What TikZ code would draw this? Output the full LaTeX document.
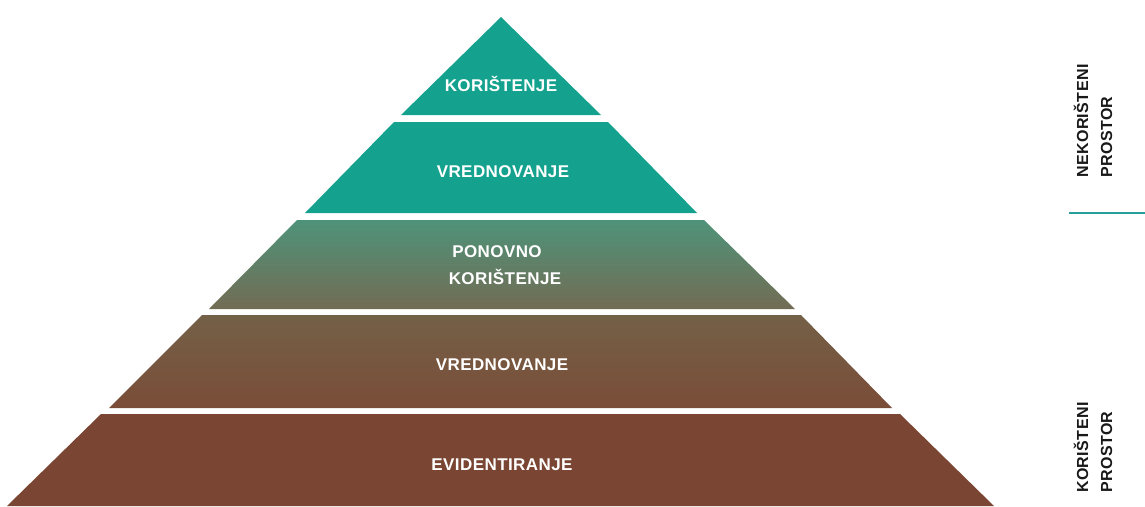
\documentclass[tikz,border=0pt]{standalone}
\usepackage{fontspec}
\setmainfont{Liberation Sans}
\newfontfamily\pyrfont[LetterSpace=2.5]{Liberation Sans}
\usepackage{tikz}
\usepackage{xcolor}
\usetikzlibrary{calc,positioning}

\definecolor{pyrteal}{RGB}{20,161,142}
\definecolor{pyrmixtop}{RGB}{78,147,121}
\definecolor{pyrmixbot}{RGB}{114,108,84}
\definecolor{pyrbrowntop}{RGB}{116,96,71}
\definecolor{pyrbrownbot}{RGB}{122,77,56}
\definecolor{pyrbase}{RGB}{122,69,50}
\definecolor{septeal}{RGB}{40,158,155}
\definecolor{sideink}{RGB}{25,25,25}

\tikzset{
    lvltext/.style={text=white, inner sep=0pt, anchor=base,
        font=\pyrfont\fontsize{17}{19}\selectfont\bfseries},
    sidetext/.style={text=sideink, inner sep=0pt, rotate=90, anchor=base west,
        font=\pyrfont\fontsize{16}{18}\selectfont\bfseries},
    sepline/.style={draw=septeal, line width=2pt}
}

\begin{document}
\begin{tikzpicture}[x=1pt,y=-1pt]
            \useasboundingbox (0,0) rectangle (1145,506);

            % Top level: triangle
            \fill[pyrteal] (501,17) -- (601,115) -- (401,115) -- cycle;
            % Second level
            \fill[pyrteal] (394,122) -- (608,122) -- (697,213) -- (305,213) -- cycle;
            % Third level: teal fading into brown
            \shade[top color=pyrmixtop, bottom color=pyrmixbot]
                (297,220) -- (704,220) -- (795,309) -- (209,309) -- cycle;
            % Fourth level
            \shade[top color=pyrbrowntop, bottom color=pyrbrownbot]
                (202,315) -- (801,315) -- (892,408) -- (109,408) -- cycle;
            % Base level
            \fill[pyrbase] (101,414) -- (900,414) -- (994,506) -- (7,506) -- cycle;

            % Level labels
            \node[lvltext] (koristenje) at (501,91) {KORIŠTENJE};
            \node[lvltext] (vrednovanjeA) at (503,177) {VREDNOVANJE};
            \node[lvltext] (ponovno) at (497,257) {PONOVNO};
            \node[lvltext] (koristenjeB) at (505,284) {KORIŠTENJE};
            \node[lvltext] (vrednovanjeB) at (502,370) {VREDNOVANJE};
            \node[lvltext] (evidentiranje) at (502,470) {EVIDENTIRANJE};

            % Side labels, read bottom to top
            \node[sidetext] (nekoristeni) at (1088,178) {NEKORIŠTENI};
            \node[sidetext] (prostorA) at (1112,178) {PROSTOR};
            \node[sidetext] (koristeni) at (1088,493) {KORIŠTENI};
            \node[sidetext] (prostorB) at (1112,493) {PROSTOR};

            % Separator between the two side labels
            \coordinate (sepL) at (1069,213);
            \coordinate (sepR) at (1145,213);
            \draw[sepline] (sepL) -- (sepR);
\end{tikzpicture}
\end{document}
